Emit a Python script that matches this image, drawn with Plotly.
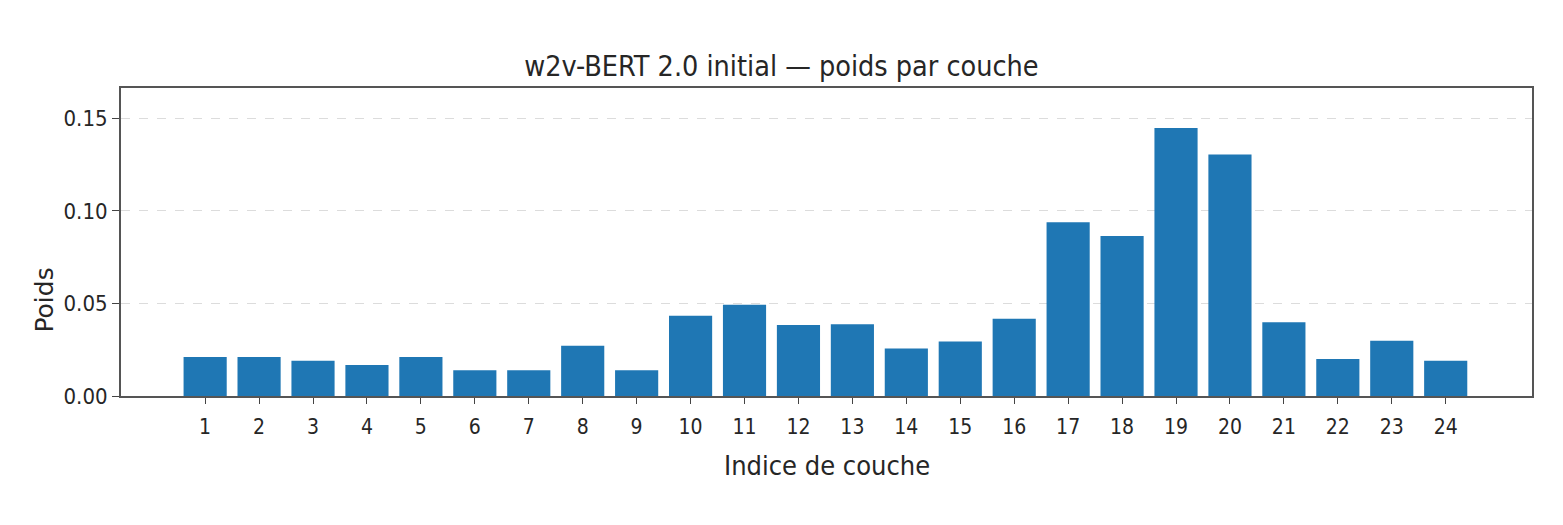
import plotly.graph_objects as go

# layer weights
layers = list(range(1, 25))
weights = [0.0211, 0.0211, 0.0190, 0.0168, 0.0211, 0.0139, 0.0139, 0.0271,
           0.0139, 0.0433, 0.0493, 0.0383, 0.0388, 0.0256, 0.0294, 0.0417,
           0.0939, 0.0865, 0.1448, 0.1305, 0.0399, 0.0200, 0.0298, 0.0190]
y_ticks = [0.0, 0.05, 0.10, 0.15]
y_tick_text = ["0.00", "0.05", "0.10", "0.15"]

title_text = "w2v-BERT 2.0 initial — poids par couche"
x_title = "Indice de couche"
y_title = "Poids"

narrow = "DejaVu Sans Condensed, DejaVu Sans, sans-serif"
ink = "#262626"

fig = go.Figure(go.Bar(x=layers, y=weights, width=0.8,
                       marker=dict(color="#1f77b4", line=dict(width=0))))

fig.update_layout(
    width=1563, height=525,
    margin=dict(l=121, r=31, t=88, b=129),
    paper_bgcolor="white", plot_bgcolor="white",
    showlegend=False,
    font=dict(family=narrow, color=ink),
    title=dict(text=title_text, x=0.5, xref="container", xanchor="center",
               y=1 - 66 / 525, yref="container", yanchor="middle",
               font=dict(family=narrow, size=28.5, color=ink)),
)

fig.update_xaxes(
    range=[-0.56, 25.6], tickmode="array", tickvals=layers,
    ticktext=[str(v) for v in layers],
    ticks="outside", ticklen=6, tickwidth=1.2, tickcolor="#444",
    ticklabelstandoff=5,
    tickfont=dict(family=narrow, size=21, color=ink),
    showgrid=False, zeroline=False,
    showline=True, linecolor="#555", linewidth=2, mirror=True,
)
fig.update_yaxes(
    range=[0, 0.1664], tickmode="array", tickvals=y_ticks, ticktext=y_tick_text,
    ticks="outside", ticklen=7, tickwidth=1.2, tickcolor="#444",
    tickfont=dict(family=narrow, size=22, color=ink),
    showgrid=True, gridcolor="#dcdcdc", griddash="dash", gridwidth=1,
    zeroline=False,
    showline=True, linecolor="#555", linewidth=2, mirror=True,
)

fig.add_annotation(text=x_title, xref="paper", yref="paper", x=0.5, y=-0.227,
                   xanchor="center", yanchor="middle", showarrow=False,
                   font=dict(family=narrow, size=27, color=ink))
fig.add_annotation(text=y_title, xref="paper", yref="paper", x=-0.0545, y=0.31,
                   xanchor="center", yanchor="middle", showarrow=False, textangle=-90,
                   font=dict(family="DejaVu Sans, sans-serif", size=25, color=ink))

# the page's default body margin would push the figure off its place
fig.write_html("out.html", config={"displayModeBar": False},
               post_script="document.body.style.margin = '0';")
